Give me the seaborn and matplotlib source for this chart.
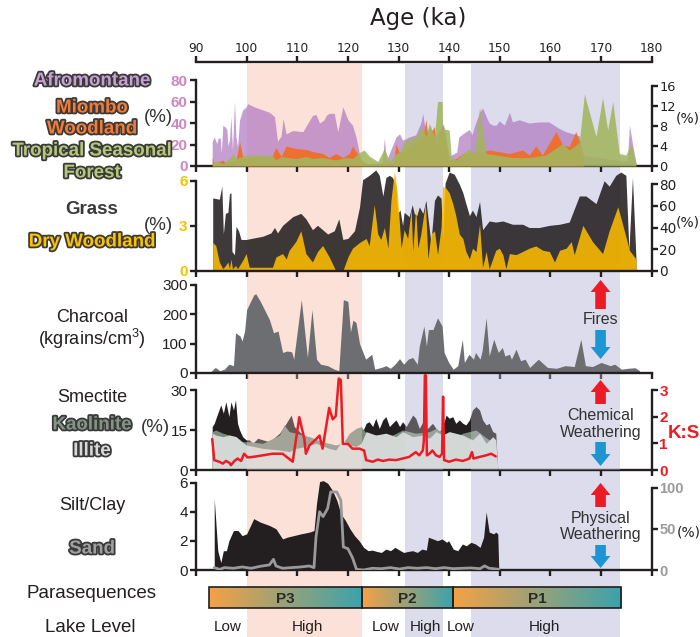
import matplotlib
matplotlib.use("Agg")
import matplotlib.pyplot as plt
import matplotlib.patheffects as pe
from matplotlib.patches import Rectangle, FancyArrow
from matplotlib.transforms import blended_transform_factory
from matplotlib.colors import LinearSegmentedColormap
import numpy as np
import pandas as pd
import seaborn as sns

sns.set_style("ticks")
plt.rcParams['font.family'] = ['Liberation Sans', 'DejaVu Sans']
plt.rcParams['mathtext.default'] = 'regular'

# ---------------- data ----------------
age_ticks = list(range(90, 181, 10))

afro_age = [93.2, 93.6, 94.1, 94.4, 94.8, 95.0, 95.3, 95.8, 96.1, 96.3, 96.6, 96.9, 97.2, 97.6, 97.9, 98.2, 98.6, 99.2, 99.9, 100.2,
            101.5, 104.5, 105.5, 106.1, 106.8, 107.2, 107.8, 109.1, 111.1, 113.0, 113.7, 114.4, 115.3, 115.7, 116.3, 117.3, 118.0,
            119.0, 120.0, 120.9, 121.6, 122.6, 123.5, 126.8, 127.2, 127.6, 129.5, 130.2, 130.8, 132.1, 133.4, 134.4, 134.8, 135.4,
            136.1, 137.1, 137.7, 138.7, 139.0, 140.0, 141.5, 141.9, 142.7, 143.3, 144.0, 144.5, 145.0, 146.0, 146.6, 147.3, 147.9,
            148.6, 149.3, 149.9, 150.9, 151.9, 152.5, 153.8, 155.8, 157.7, 159.7, 161.7, 163.0, 164.4, 165.7, 166.5, 174.0, 175.2,
            175.6, 176.2, 176.9]
afromontane = [23, 27, 21, 26, 26, 12, 38, 36, 34, 19, 24, 46, 15, 60, 27, 18, 43, 52, 55, 58, 55, 50, 46, 23, 28, 44, 30, 33,
               32, 47, 48, 40, 43, 47, 49, 49, 32, 55, 43, 38, 27, 4, 2, 3, 26, 5, 27, 30, 24, 27, 29, 40, 49, 29, 37, 27, 30, 39,
               36, 9, 13, 27, 30, 32, 34, 29, 37, 50, 54, 46, 40, 38, 38, 42, 38, 50, 41, 43, 40, 41, 41, 35, 32, 30, 28, 10, 5, 5,
               38, 21, 3]

miombo_age = [93.2, 93.6, 95.3, 95.8, 97.9, 98.6, 99.2, 99.9, 101.5, 105.0, 105.8, 106.8, 107.8, 109.7, 111.7, 113.0, 115.0,
              116.3, 117.6, 119.0, 120.3, 120.9, 121.6, 122.6, 124.0, 129.0, 129.5, 130.2, 132.1, 133.4, 134.8, 135.4, 135.8,
              137.1, 137.4, 138.7, 139.6, 140.0, 141.4, 142.7, 146.6, 147.9, 151.9, 154.5, 155.8, 157.1, 158.4, 161.1, 162.4,
              163.7, 165.0, 165.7, 166.5]
miombo = [1.7, 0.5, 1.2, 0.6, 1.2, 4.9, 2.0, 1.5, 1.9, 1.9, 3.7, 1.9, 4.0, 3.5, 3.3, 2.9, 2.5, 1.7, 2.5, 1.7, 2.5, 4.0, 2.9,
          1.2, 0.3, 0.5, 4.4, 2.5, 3.9, 4.9, 5.9, 9.3, 5.9, 7.9, 3.9, 8.5, 3.0, 1.2, 1.5, 2.5, 2.9, 3.2, 2.5, 3.2, 2.2, 4.0,
          2.2, 6.9, 4.2, 3.9, 6.9, 4.9, 2.0]

tsf_age = [93.2, 94.0, 95.3, 96.6, 97.2, 97.9, 99.9, 105.1, 105.8, 106.8, 108.1, 109.7, 111.7, 113.0, 115.0, 117.6, 119.6,
           120.9, 122.6, 123.2, 124.2, 125.9, 127.2, 128.2, 129.5, 130.3, 131.1, 132.1, 133.4, 134.8, 135.4, 136.1, 137.1,
           137.7, 138.6, 138.7, 140.0, 140.4, 141.4, 142.7, 144.0, 145.0, 146.0, 146.6, 147.3, 149.3, 152.5, 155.8, 159.1,
           162.4, 163.7, 165.7, 166.7, 169.0, 170.3, 171.3, 172.3, 173.6, 174.9, 175.9, 176.9]
tropical_forest = [0.5, 1.0, 0.5, 1.5, 2.5, 1.5, 2.2, 2.1, 1.2, 1.9, 1.7, 1.5, 1.9, 1.5, 1.7, 1.2, 1.7, 1.5, 2.9, 3.2, 2.0, 0.9,
                   3.5, 0.9, 2.5, 2.9, 4.9, 5.2, 5.9, 7.9, 5.9, 8.5, 5.9, 12.9, 12.9, 7.5, 7.2, 1.9, 1.2, 2.5, 3.5, 2.5,
                   11.7, 7.2, 2.5, 2.2, 1.7, 1.7, 2.2, 4.5, 3.2, 4.7, 14.4, 5.9, 13.7, 7.2, 12.9, 2.5, 2.2, 4.5, 0.5]

grass_age = [93.3, 93.6, 94.6, 95.1, 95.4, 95.8, 96.3, 96.6, 96.9, 97.1, 97.6, 97.9, 98.4, 98.9, 99.9, 103.2, 104.8, 105.5,
             106.1, 107.1, 109.1, 110.7, 111.7, 113.0, 114.0, 115.0, 116.0, 117.3, 118.2, 119.0, 120.0, 121.3, 122.3, 122.9,
             124.2, 125.5, 126.2, 126.9, 127.5, 128.2, 128.8, 129.5, 129.8, 130.3, 130.8, 131.1, 132.1, 132.7, 133.1, 133.6,
             134.1, 134.8, 135.4, 136.4, 137.1, 137.7, 138.4, 138.7, 139.2, 140.0, 141.0, 142.0, 142.7, 143.3, 144.0, 144.6,
             145.3, 146.0, 146.6, 147.9, 149.2, 150.6, 152.5, 154.5, 155.8, 157.8, 159.8, 161.8, 163.7, 165.7, 167.0, 169.0,
             170.6, 171.6, 172.9, 173.9, 174.9, 175.5, 176.2, 176.9]
grass = [67, 67, 66, 78, 34, 53, 54, 71, 72, 18, 15, 41, 37, 29, 29, 32, 35, 40, 35, 42, 50, 53, 48, 38, 42, 38, 34, 37, 48, 29,
         30, 37, 59, 84, 88, 93, 88, 69, 86, 88, 86, 78, 53, 56, 42, 54, 50, 61, 53, 51, 59, 53, 65, 26, 65, 70, 67, 30, 81, 91,
         89, 80, 72, 62, 51, 56, 50, 64, 38, 46, 45, 46, 43, 43, 40, 40, 42, 43, 45, 69, 69, 62, 83, 78, 88, 91, 88, 19, 86, 11]

dw_age = [93.3, 93.9, 94.6, 95.3, 95.8, 96.3, 96.6, 96.9, 97.2, 97.8, 98.2, 99.2, 99.9, 100.5, 105.1, 105.8, 107.1, 107.8,
          108.4, 109.7, 110.7, 111.7, 113.0, 114.0, 115.0, 116.3, 117.6, 119.0, 120.0, 120.9, 122.3, 123.6, 124.2, 125.2,
          125.9, 126.5, 127.2, 127.9, 128.5, 129.2, 129.8, 130.5, 131.1, 131.8, 132.5, 132.8, 133.4, 133.8, 134.4, 135.3,
          135.8, 136.4, 137.1, 137.7, 138.4, 138.7, 139.4, 140.0, 140.7, 141.3, 142.0, 142.7, 143.3, 144.0, 144.6, 145.3,
          146.0, 146.6, 147.3, 147.9, 149.2, 149.9, 150.6, 151.2, 151.9, 153.2, 154.5, 155.8, 157.1, 158.5, 159.8, 160.8,
          161.8, 163.1, 164.1, 164.7, 166.4, 168.3, 170.3, 171.6, 173.3, 174.3, 175.6, 176.9]
dry_woodland = [1.9, 1.7, 0.6, 0.15, 0.36, 0.6, 0.15, 0.8, 0.15, 0.36, 0.15, 0.7, 1.16, 0.25, 0.25, 0.94, 1.16, 0.8, 1.38,
                1.96, 2.68, 1.16, 0.6, 1.3, 1.7, 0.94, 0.02, 0.02, 0.94, 1.52, 1.9, 2.17, 1.67, 4.42, 2.46, 2.1, 2.9, 1.52,
                4.71, 6.7, 5.07, 1.52, 2.75, 2.17, 4.13, 1.3, 4.28, 1.52, 2.46, 4.5, 0.8, 2.46, 2.68, 1.09, 2.9, 5.65, 5.5,
                5.22, 4.5, 3.7, 2.46, 2.17, 1.3, 0.8, 1.52, 1.3, 3.12, 0.25, 1.3, 0.15, 1.38, 1.52, 1.09, 0.15, 1.16, 1.09,
                1.3, 1.52, 1.67, 1.38, 1.3, 0.6, 1.38, 1.52, 1.96, 1.09, 3.04, 1.96, 1.16, 2.68, 4.28, 3.04, 1.38, 0.8]

char_age = [92.9, 93.8, 94.7, 95.6, 96.5, 97.4, 97.8, 98.7, 99.1, 99.6, 100.0, 101.4, 101.8, 102.7, 104.5, 105.3, 106.2, 107.1,
            108.0, 108.9, 109.3, 110.8, 112.0, 112.9, 113.8, 114.6, 116.0, 117.3, 118.2, 119.1, 120.0, 120.5, 121.0, 121.6,
            122.3, 123.5, 124.7, 125.3, 126.6, 127.5, 128.4, 129.3, 130.2, 131.0, 131.9, 132.8, 133.7, 134.1, 135.0, 135.5,
            135.9, 136.8, 137.7, 138.6, 139.0, 139.9, 140.8, 141.7, 142.6, 143.0, 143.9, 144.8, 145.2, 146.1, 146.5, 147.3,
            147.9, 148.8, 149.7, 150.5, 151.0, 151.9, 152.3, 153.2, 154.1, 155.0, 155.9, 157.6, 159.4, 161.2, 162.9, 164.7,
            166.0, 166.9, 168.3, 170.0, 171.8, 172.7, 174.0, 175.3, 176.7, 177.6]
charcoal = [4, 19, 8, 13, 30, 25, 137, 126, 109, 143, 216, 266, 270, 244, 182, 137, 143, 70, 75, 72, 47, 250, 53, 216, 47, 30,
            25, 13, 8, 250, 244, 140, 180, 172, 100, 47, 64, 13, 19, 25, 16, 30, 49, 30, 47, 53, 30, 92, 160, 92, 148, 148, 188,
            160, 70, 36, 13, 25, 115, 36, 64, 47, 70, 47, 75, 188, 58, 115, 70, 87, 58, 64, 47, 81, 42, 47, 19, 47, 19, 16, 25,
            22, 115, 25, 22, 36, 25, 30, 13, 16, 18, 8]

smec_age = [93.2, 93.6, 94.3, 94.9, 95.4, 95.9, 96.5, 96.9, 97.4, 97.8, 98.2, 98.6, 99.2, 99.9, 100.5, 101.2, 102.2, 103.2,
            104.5, 106.5, 107.8, 108.8, 109.4, 110.1, 111.1, 113.0, 115.0, 116.3, 118.3, 119.6, 120.9, 122.3, 122.9, 123.6,
            124.2, 124.9, 125.5, 126.2, 126.9, 127.5, 128.2, 128.8, 129.5, 130.2, 130.8, 131.5, 132.8, 133.4, 134.1, 134.8,
            135.4, 136.1, 136.7, 137.4, 138.1, 138.7, 139.4, 140.0, 140.7, 141.3, 142.0, 142.7, 143.3, 144.0, 144.6, 145.3,
            146.0, 146.6, 147.3, 147.9, 148.6, 149.2, 149.6]
smectite = [16.3, 17.5, 21.3, 24.4, 21.3, 25.6, 20.0, 25.6, 22.5, 26.3, 17.5, 15.0, 12.5, 11.3, 11.3, 10.0, 11.9, 11.3, 10.6,
            13.8, 17.5, 20.6, 16.3, 15.0, 13.1, 11.3, 10.0, 9.4, 8.8, 8.1, 11.3, 13.1, 14.4, 17.5, 18.1, 16.3, 19.4, 15.6, 18.8,
            20.0, 16.3, 17.5, 18.8, 16.3, 18.1, 16.3, 20.6, 19.4, 15.6, 18.1, 15.0, 16.3, 17.5, 15.6, 14.4, 16.3, 20.6, 19.4,
            20.0, 17.5, 18.8, 17.5, 16.9, 18.8, 22.5, 23.8, 22.5, 18.8, 16.9, 17.5, 14.4, 13.8, 0]

kaol_age = [93.2, 93.9, 95.3, 96.6, 97.9, 99.2, 100.5, 103.2, 106.5, 107.4, 108.4, 109.7, 112.4, 115.0, 117.6, 119.0, 120.3,
            121.6, 122.6, 123.6, 125.5, 128.2, 130.8, 133.4, 136.1, 137.4, 138.7, 141.3, 142.7, 145.3, 146.6, 147.9, 149.2, 149.6]
kaolinite = [14.4, 15.0, 13.8, 13.1, 12.5, 10.6, 10.6, 10.0, 13.1, 16.9, 14.4, 13.8, 12.5, 10.6, 9.4, 10.0, 13.8, 15.6, 16.3,
             13.8, 13.1, 12.5, 15.0, 13.8, 14.4, 15.6, 13.8, 12.5, 13.8, 15.0, 13.1, 11.3, 10.0, 0]

ill_age = [93.2, 93.9, 95.3, 96.6, 97.9, 98.6, 99.9, 103.2, 106.5, 108.4, 109.7, 111.7, 113.7, 116.3, 117.6, 119.0, 120.3,
           121.6, 122.6, 123.6, 125.5, 127.5, 129.5, 130.8, 132.8, 134.8, 136.1, 137.4, 138.7, 140.0, 142.7, 144.6, 146.0,
           147.3, 148.6, 149.2, 149.6]
illite = [13.8, 13.1, 12.5, 13.1, 12.5, 11.3, 9.4, 8.1, 7.5, 6.9, 8.1, 8.8, 10.0, 8.1, 7.5, 11.3, 9.4, 8.8, 10.0, 14.4, 13.1,
          13.8, 12.5, 14.4, 12.5, 13.1, 11.9, 14.4, 13.1, 14.4, 13.1, 11.3, 13.8, 10.0, 12.5, 11.3, 0]

ks_age = [93.2, 93.6, 94.6, 95.3, 95.9, 96.6, 96.9, 97.6, 98.2, 98.9, 99.5, 100.2, 101.2, 103.2, 105.1, 107.1, 109.1, 110.4,
          111.4, 111.7, 112.4, 113.4, 114.4, 115.0, 116.3, 117.0, 117.6, 118.2, 118.6, 119.0, 120.0, 120.9, 122.3, 123.2,
          123.6, 124.9, 125.9, 126.9, 128.2, 129.5, 130.8, 132.1, 133.4, 134.1, 134.8, 135.0, 135.2, 135.4, 135.6, 136.1,
          136.7, 137.4, 138.1, 138.6, 138.8, 139.0, 140.0, 141.3, 142.7, 144.0, 144.5, 144.8, 146.0, 147.3, 148.3, 149.2]
ks_ratio = [1.16, 0.37, 0.31, 0.24, 0.34, 0.27, 0.18, 0.34, 0.43, 0.34, 0.61, 0.47, 0.49, 0.55, 0.61, 0.61, 0.31, 1.98, 1.16,
            0.61, 0.92, 1.10, 1.29, 0.80, 2.33, 1.90, 2.02, 3.43, 3.37, 0.98, 0.98, 0.80, 0.80, 0.73, 0.37, 0.31, 0.39, 0.34,
            0.39, 0.37, 0.43, 0.49, 0.67, 0.55, 0.73, 1.10, 3.55, 3.55, 0.55, 0.61, 0.73, 0.55, 0.49, 0.61, 2.75, 0.37, 0.31,
            0.39, 0.34, 0.43, 0.67, 0.43, 0.49, 0.55, 0.61, 0.51]

silt_age = [93.6, 94.3, 94.9, 95.4, 96.0, 96.5, 97.4, 98.3, 99.1, 100.0, 101.4, 102.7, 104.5, 105.8, 107.1, 108.0, 109.3,
            110.7, 112.4, 113.3, 113.8, 114.4, 115.1, 116.0, 116.9, 117.8, 118.6, 119.5, 120.4, 121.3, 122.2, 123.1, 124.0,
            124.8, 125.7, 126.6, 127.5, 128.4, 129.3, 130.2, 131.0, 131.9, 132.8, 133.7, 134.6, 135.5, 135.9, 136.8, 137.7,
            138.6, 139.5, 139.9, 140.8, 141.7, 142.6, 143.4, 144.3, 145.2, 146.1, 146.8, 147.3, 147.9, 148.8, 149.2, 149.6, 149.8]
silt_clay = [4.93, 1.33, 0.51, 1.33, 1.33, 2.02, 2.72, 2.72, 2.37, 2.49, 3.54, 3.30, 3.07, 2.84, 2.14, 2.26, 2.37, 2.49, 2.61,
             2.72, 4.58, 6.09, 6.16, 5.98, 5.51, 4.81, 3.88, 3.42, 2.84, 2.37, 2.02, 1.56, 1.33, 1.37, 1.28, 1.21, 1.44, 1.33,
             1.56, 1.37, 1.21, 1.28, 1.33, 1.21, 1.44, 1.37, 2.26, 2.14, 2.02, 2.14, 1.91, 2.02, 1.44, 1.33, 1.79, 1.67, 1.91,
             1.79, 1.56, 2.26, 4.0, 2.61, 2.49, 2.61, 2.49, 0]

sand_age = [93.6, 94.7, 95.6, 97.4, 99.1, 100.9, 102.7, 104.5, 105.3, 105.8, 107.1, 108.9, 110.7, 112.4, 113.3, 113.7, 114.4,
            115.1, 116.0, 116.6, 117.8, 118.6, 119.1, 120.0, 120.9, 121.7, 123.1, 124.8, 126.6, 128.4, 130.2, 131.9, 133.7,
            135.5, 137.3, 139.0, 140.8, 142.6, 144.3, 146.1, 147.0, 147.9, 148.8, 149.8]
sand = [2.9, 0.8, 2.9, 2.1, 3.7, 2.1, 4.5, 6.2, 13.0, 4.9, 2.1, 2.9, 3.7, 4.9, 2.9, 40, 71, 65, 75, 95, 95, 85, 28, 26, 15,
        0.8, 0, 2.1, 1.6, 2.9, 1.2, 2.9, 2.1, 2.9, 1.6, 2.9, 1.6, 2.1, 2.5, 1.6, 5.0, 2.1, 1.6, 0.8]

span_start = [100.0, 131.2, 144.3]
span_end = [122.7, 138.8, 173.8]
span_kind = ['high', 'mid', 'mid']

para_names = ['P3', 'P2', 'P1']
para_start = [92.5, 122.8, 140.8]
para_end = [122.8, 140.8, 174.0]

lake_labels = ['Low', 'High', 'Low', 'High', 'Low', 'High']
lake_age = [96.3, 112.0, 127.5, 135.4, 142.2, 158.9]

# ---------------- styling ----------------
W, H = 700, 637
INK = '#231f20'
RED, BLUE, SANDC = '#ed1c24', '#1c95d3', '#9a9a9a'
LW = 1.7
span_colors = {'high': '#fbe1d8', 'mid': '#dcdcec'}

fig = plt.figure(figsize=(7, 6.37), dpi=100)
X0, XW = 196 / W, 455.7 / W


def panel(top, bottom):
    ax = fig.add_axes([X0, 1 - bottom / H, XW, (bottom - top) / H])
    ax.patch.set_visible(False)
    ax.set_xlim(90, 180)
    ax.set_xticks(age_ticks)
    for side, sp in ax.spines.items():
        sp.set_visible(side in ('left', 'bottom'))
        sp.set_linewidth(LW)
        sp.set_color(INK)
    ax.tick_params(axis='both', direction='out', length=4, width=LW, color=INK, pad=2)
    ax.tick_params(axis='x', bottom=True, labelbottom=False)
    ax.tick_params(axis='y', left=True)
    ax.grid(False)
    return ax


def twin(ax):
    t = ax.twinx()
    for side, sp in t.spines.items():
        sp.set_visible(side == 'right')
        sp.set_linewidth(LW)
        sp.set_color(INK)
    t.tick_params(axis='y', right=True, left=False, direction='out', length=4, width=LW, color=INK, pad=1.5)
    t.grid(False)
    return t


# Panel 1: pollen
ax1 = panel(78, 166)
ax1.set_ylim(0, 81.9)
ax1.fill_between(afro_age, afromontane, color='#af77c0', alpha=0.7, lw=0)
ax1.spines['left'].set_bounds(0, 80)
ax1.set_yticks([0, 20, 40, 60, 80], labels=['0', '20', '40', '60', '80'],
               color='#cf86c0', fontweight='bold', fontsize=11)
ax1.spines['top'].set_visible(True)
ax1.spines['top'].set_position(('outward', 11.5))
ax1.tick_params(axis='x', top=True, labeltop=True, pad=1)
ax1.set_xticks(age_ticks, labels=[str(a) for a in age_ticks], fontfamily='DejaVu Sans', fontsize=8.8, color=INK)
t1 = twin(ax1)
t1.set_ylim(0, 17.6)
t1.fill_between(miombo_age, miombo, color='#f36c1f', alpha=0.9, lw=0)
t1.fill_between(tsf_age, tropical_forest, color='#a2b65e', alpha=0.88, lw=0)
t1.spines['right'].set_bounds(0, 16)
t1.set_yticks([0, 4, 8, 12, 16], labels=['0', '4', '8', '12', '16'], fontfamily='DejaVu Sans', fontsize=9.3, color=INK)

# Panel 2: grass + dry woodland
ax2 = panel(170, 271)
t2 = twin(ax2)
ax2.set_zorder(t2.get_zorder() + 1)
t2.set_ylim(0, 92.9)
t2.fill_between(grass_age, grass, color=INK, alpha=0.88, lw=0)
t2.spines['right'].set_bounds(0, 80)
t2.set_yticks([0, 20, 40, 60, 80], labels=['0', '20', '40', '60', '80'], fontfamily='DejaVu Sans', fontsize=9.8, color=INK)
ax2.set_ylim(0, 6.73)
ax2.fill_between(dw_age, dry_woodland, color='#fdbc00', alpha=0.88, lw=0)
ax2.spines['left'].set_bounds(0, 6)
ax2.set_yticks([0, 3, 6], labels=['0', '3', '6'], color='#f5c200', fontweight='bold', fontsize=11)

# Panel 3: charcoal
ax3 = panel(282, 373)
ax3.set_ylim(0, 310)
ax3.fill_between(char_age, charcoal, color='#6d6e71', lw=0)
ax3.spines['left'].set_bounds(0, 300)
ax3.set_yticks([0, 100, 200, 300], labels=['0', '100', '200', '300'], fontsize=11, color=INK)

# Panel 4: clays + K:S
ax4 = panel(374, 470)
ax4.set_ylim(0, 36)
ax4.fill_between(smec_age, smectite, color=INK, lw=0)
ax4.fill_between(kaol_age, kaolinite, color='#7b8b7a', lw=0)
ax4.fill_between(ill_age, illite, color='#d3d8d6', lw=0)
# light tint of the shaded intervals over the clay layers
for s, e, k in zip(span_start, span_end, span_kind):
    ax4.axvspan(s, e, color=span_colors[k], alpha=0.3, lw=0, zorder=3)
ax4.spines['left'].set_bounds(0, 30)
ax4.set_yticks([0, 15, 30], labels=['0', '15', '30'], fontsize=11, color=INK)
t4 = twin(ax4)
t4.set_ylim(0, 3.6)
ks_df = pd.DataFrame({'age': ks_age, 'ks': ks_ratio})
sns.lineplot(data=ks_df, x='age', y='ks', ax=t4, color=RED, lw=1.8, estimator=None, sort=False, legend=False)
t4.set_xlabel('')
t4.set_ylabel('')
t4.spines['right'].set_bounds(0, 3)
t4.set_yticks([0, 1, 2, 3], labels=['0', '1', '2', '3'], color=RED, fontweight='bold', fontsize=11)

# Panel 5: silt/clay + sand
ax5 = panel(478, 570)
ax5.set_ylim(0, 6.34)
ax5.fill_between(silt_age, silt_clay, color=INK, lw=0)
ax5.spines['left'].set_bounds(0, 6)
ax5.set_yticks([0, 2, 4, 6], labels=['0', '2', '4', '6'], fontsize=11, color=INK)
t5 = twin(ax5)
t5.set_ylim(0, 112)
sand_df = pd.DataFrame({'age': sand_age, 'sand': sand})
sns.lineplot(data=sand_df, x='age', y='sand', ax=t5, color=SANDC, lw=2.0, estimator=None, sort=False, legend=False)
t5.set_xlabel('')
t5.set_ylabel('')
t5.spines['right'].set_bounds(0, 100)
t5.set_yticks([0, 50, 100], labels=['0', '50', '100'], color=SANDC, fontweight='bold', fontsize=10.5)

for a in (ax1, ax2, ax3, ax4, ax5):
    a.set_xlim(90, 180)

# shaded intervals behind the panels
trans = blended_transform_factory(ax1.transData, fig.transFigure)
for s, e, k in zip(span_start, span_end, span_kind):
    fig.add_artist(Rectangle((s, 0), e - s, 1 - 64 / H, transform=trans, facecolor=span_colors[k],
                             lw=0, zorder=-1))

# parasequence bar
axb = fig.add_axes([X0, 1 - 609 / H, XW, 23 / H])
axb.set_zorder(5)
cmap = LinearSegmentedColormap.from_list('ps', ['#f5a145', '#3aa3ad'])
grad = np.linspace(0, 1, 256).reshape(1, -1)
for name, s, e in zip(para_names, para_start, para_end):
    axb.imshow(grad, extent=[s, e, 0, 1], aspect='auto', cmap=cmap)
    axb.add_patch(Rectangle((s, 0), e - s, 1, fill=False, edgecolor=INK, lw=1.2))
    axb.text((s + e) / 2, 0.45, name, ha='center', va='center', fontsize=11, fontweight='bold', color='#2a2a2a')
axb.set_xlim(90, 180)
axb.set_ylim(-0.05, 1.05)
axb.axis('off')


def ftext(x, y, s, **kw):
    kw.setdefault('zorder', 6)
    fig.text(x / W, 1 - y / H, s, ha='center', va='center', **kw)


def block_arrow(age, y_base, y_tip, color):
    yb, yt = 1 - y_base / H, 1 - y_tip / H
    fig.add_artist(FancyArrow(age, yb, 0, yt - yb, width=2.1, head_width=3.9, head_length=12 / H,
                              length_includes_head=True, transform=trans, color=color, lw=0, zorder=6))


# titles and left labels
ftext(418, 19, 'Age (ka)', fontsize=16.5, fontfamily='DejaVu Sans', color=INK)
stroke = [pe.withStroke(linewidth=2.6, foreground='#3a3a3a')]
bold = dict(fontsize=13.5, fontweight='bold', path_effects=stroke)
ftext(92, 81, 'Afromontane', color='#c7a0d3', **bold)
ftext(92, 108, 'Miombo', color='#f47b35', **bold)
ftext(92, 129, 'Woodland', color='#f47b35', **bold)
ftext(92, 151, 'Tropical Seasonal', color='#b7c778', **bold)
ftext(92, 173, 'Forest', color='#b7c778', **bold)
ftext(92, 210, 'Grass', color='#3a3a3a', fontsize=13.5, fontweight='bold')
ftext(92, 242, 'Dry Woodland', color='#fdc300', **bold)
ftext(92, 318, 'Charcoal', color=INK, fontsize=13)
ftext(92, 339, '(kgrains/cm$^3$)', color=INK, fontsize=13)
ftext(92, 398, 'Smectite', color=INK, fontsize=13)
ftext(92, 425, 'Kaolinite', color='#859585', **bold)
ftext(92, 451, 'Illite', color='#d9d9d9', **bold)
ftext(92, 506, 'Silt/Clay', color=INK, fontsize=13)
ftext(92, 549, 'Sand', color='#a0a0a0', **bold)
ftext(92, 594, 'Parasequences', color=INK, fontsize=13.5)
ftext(90, 627, 'Lake Level', color=INK, fontsize=13.5)
for x, y in [(158, 117), (158, 225), (155, 427)]:
    ftext(x, y, '(%)', color='#333333', fontsize=13.5)

# right labels
ftext(688, 118, '(%)', color=INK, fontsize=10, fontfamily='DejaVu Sans')
ftext(688, 223, '(%)', color=INK, fontsize=10, fontfamily='DejaVu Sans')
ftext(689, 533, '(%)', color=INK, fontsize=10, fontfamily='DejaVu Sans')
ftext(684, 434, 'K:S', color=RED, fontsize=13.5, fontweight='bold')

# lake level words
for lab, a in zip(lake_labels, lake_age):
    fig.text(a, 1 - 627 / H, lab, transform=trans, ha='center', va='center', fontsize=11, color=INK, zorder=6)

# process arrows
arrow_age = 169.9
block_arrow(arrow_age, 309, 280, RED)
block_arrow(arrow_age, 330, 359, BLUE)
fig.text(arrow_age, 1 - 320 / H, 'Fires', transform=trans, ha='center', va='center', fontsize=11.5, color='#333333', zorder=6)
block_arrow(arrow_age, 404, 380, RED)
block_arrow(arrow_age, 442, 466, BLUE)
fig.text(arrow_age, 1 - 415 / H, 'Chemical', transform=trans, ha='center', va='center', fontsize=11.5, color='#333333', zorder=6)
fig.text(arrow_age, 1 - 432 / H, 'Weathering', transform=trans, ha='center', va='center', fontsize=11.5, color='#333333', zorder=6)
block_arrow(arrow_age, 507, 483, RED)
block_arrow(arrow_age, 545, 568, BLUE)
fig.text(arrow_age, 1 - 518 / H, 'Physical', transform=trans, ha='center', va='center', fontsize=11.5, color='#333333', zorder=6)
fig.text(arrow_age, 1 - 535 / H, 'Weathering', transform=trans, ha='center', va='center', fontsize=11.5, color='#333333', zorder=6)

fig.savefig('out.png', dpi=100)
